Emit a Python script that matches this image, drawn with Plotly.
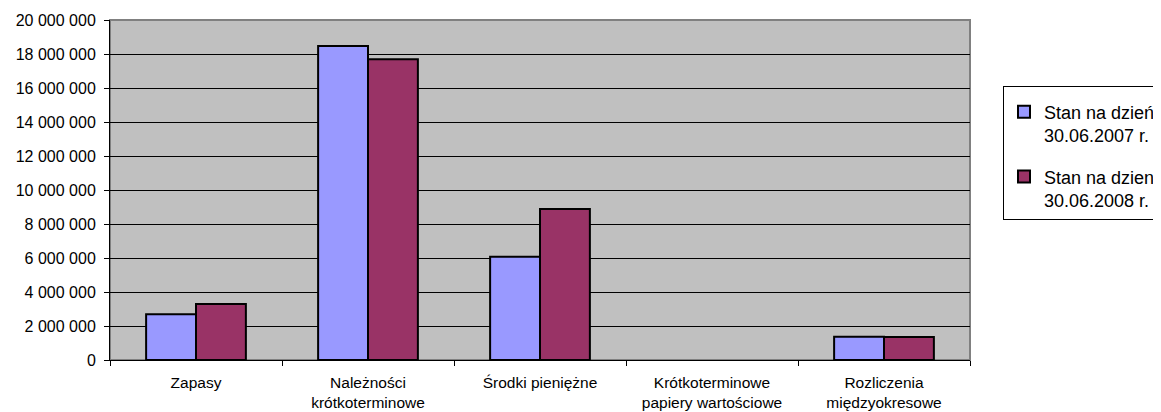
import plotly.graph_objects as go

categories = [
    "Zapasy",
    "Należności<br>krótkoterminowe",
    "Środki pieniężne",
    "Krótkoterminowe<br>papiery wartościowe",
    "Rozliczenia<br>międzyokresowe",
]
series_2007_name = "Stan na dzień<br>30.06.2007 r."
series_2008_name = "Stan na dzien<br>30.06.2008 r."
values_2007 = [2690000, 18470000, 6080000, 0, 1370000]
values_2008 = [3290000, 17690000, 8880000, 0, 1360000]
y_tick_values = [0, 2000000, 4000000, 6000000, 8000000, 10000000,
                 12000000, 14000000, 16000000, 18000000, 20000000]

FONT = "Liberation Sans, Arial, sans-serif"


def outline_widths(vals):
    return [2 if v > 0 else 0 for v in vals]


fig = go.Figure()
fig.add_trace(go.Bar(
    x=categories, y=values_2007, name=series_2007_name,
    marker=dict(color="#9999FF", line=dict(color="#000000", width=outline_widths(values_2007))),
    legendgroup="a",
))
fig.add_trace(go.Bar(
    x=categories, y=values_2008, name=series_2008_name,
    marker=dict(color="#993366", line=dict(color="#000000", width=outline_widths(values_2008))),
    legendgroup="b",
))

# page has an 8px body offset; plot area in screenshot: x 110..970, y 20..360
fig.update_layout(
    width=1161, height=412,
    margin=dict(l=102, r=199, t=12, b=60, autoexpand=False),
    paper_bgcolor="white",
    plot_bgcolor="#C0C0C0",
    barmode="group",
    bargap=0.42,
    bargroupgap=0,
    separators=", ",
    font=dict(family=FONT, size=15, color="black"),
    showlegend=True,
    legend=dict(
        x=(995 - 102) / 860, xanchor="left",
        y=(352 - 78) / 340, yanchor="top",
        bgcolor="white",
        bordercolor="black", borderwidth=1,
        font=dict(family=FONT, size=18, color="black"),
        title=dict(text="\u00a0", font=dict(size=5)),
        tracegroupgap=15,
        valign="top",
        traceorder="grouped",
    ),
    shapes=[dict(
        type="rect", xref="paper", yref="paper", x0=0, x1=1, y0=0, y1=1,
        line=dict(color="#808080", width=2), layer="below",
    )],
)

fig.update_yaxes(
    range=[0, 20000000],
    tickvals=y_tick_values,
    tickformat=",d",
    showgrid=True, gridcolor="black", gridwidth=1,
    showline=True, linecolor="black", linewidth=1,
    ticks="outside", ticklen=5, tickcolor="black",
    tickfont=dict(family=FONT, size=16),
    zeroline=False,
    ticklabelstandoff=5,
)
fig.update_xaxes(
    showgrid=False,
    showline=True, linecolor="black", linewidth=1,
    ticks="outside", ticklen=5, tickcolor="black",
    tickson="boundaries",
    tickfont=dict(family=FONT, size=15.5),
    ticklabelstandoff=8,
)

fig.write_html("out.html")
